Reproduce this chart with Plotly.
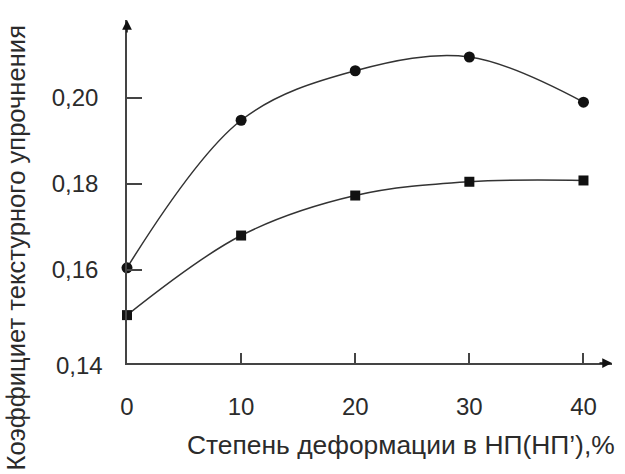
import plotly.graph_objects as go

deformation = [0, 10, 20, 30, 40]
coef_circles = [0.1605, 0.1948, 0.2063, 0.2095, 0.1990]
coef_squares = [0.1495, 0.1680, 0.1773, 0.1805, 0.1808]
y_tick_vals = [0.16, 0.18, 0.20]
y_tick_text = ["0,16", "0,18", "0,20"]
x_tick_vals = [0, 10, 20, 30, 40]
x_title = "Степень деформации в НП(НП’),%"
y_title = "Коэффициет текстурного упрочнения"

FONT = "Liberation Sans, Arial, sans-serif"
INK = "#2b2b2b"

fig = go.Figure()
fig.add_trace(go.Scatter(
    x=deformation, y=coef_circles, mode="lines+markers",
    line=dict(shape="spline", smoothing=1.0, color="#333", width=1.5),
    marker=dict(symbol="circle", size=11, color="#111"),
    cliponaxis=False, showlegend=False))
fig.add_trace(go.Scatter(
    x=deformation, y=coef_squares, mode="lines+markers",
    line=dict(shape="spline", smoothing=1.0, color="#333", width=1.5),
    marker=dict(symbol="square", size=10, color="#111"),
    cliponaxis=False, showlegend=False))

fig.update_layout(
    width=625, height=474,
    margin=dict(l=127, r=13, t=20, b=111),
    paper_bgcolor="white", plot_bgcolor="white",
    font=dict(family=FONT, color=INK, size=24),
    xaxis=dict(
        range=[0, 42.5], tickvals=x_tick_vals, ticks="inside", ticklen=10,
        tickwidth=1.5, tickcolor="#444", showline=True, linecolor="#444",
        linewidth=1.5, showgrid=False, zeroline=False, automargin=False,
        ticklabelstandoff=21, tickfont=dict(size=24),
    ),
    yaxis=dict(
        range=[0.13837, 0.2181], tickvals=y_tick_vals, ticktext=y_tick_text,
        ticks="inside", ticklen=15, tickwidth=1.5, tickcolor="#444",
        showline=True, linecolor="#444", linewidth=1.5, showgrid=False,
        zeroline=False, automargin=False, ticklabelstandoff=22,
        tickfont=dict(size=24),
    ),
    annotations=[
        dict(x=0, y=1, xref="paper", yref="paper", ax=0, ay=14,
             axref="pixel", ayref="pixel", text="", showarrow=True,
             arrowhead=2, arrowsize=1.3, arrowwidth=1.5, arrowcolor="#111"),
        dict(x=1, y=0, xref="paper", yref="paper", ax=-14, ay=0,
             text="", showarrow=True,
             arrowhead=2, arrowsize=1.3, arrowwidth=1.5, arrowcolor="#111"),
        dict(x=0, y=0.14, xref="paper", yref="y", text="0,14",
             showarrow=False, xanchor="right", yanchor="middle",
             xshift=-22, yshift=-10, font=dict(size=24)),
        dict(x=1, y=0, xref="paper", yref="paper", text=x_title,
             showarrow=False, xanchor="right", yanchor="middle",
             xshift=5, yshift=-82, font=dict(size=26.4)),
        dict(x=0, y=0.5, xref="paper", yref="paper", text=y_title,
             showarrow=False, textangle=-90, xanchor="center",
             yanchor="middle", xshift=-112, yshift=-56,
             font=dict(size=25.6)),
    ],
)

fig.write_html("out.html",
               config={"displayModeBar": False},
               post_script="document.body.style.margin='0';"
                           "document.body.style.overflow='hidden';")
